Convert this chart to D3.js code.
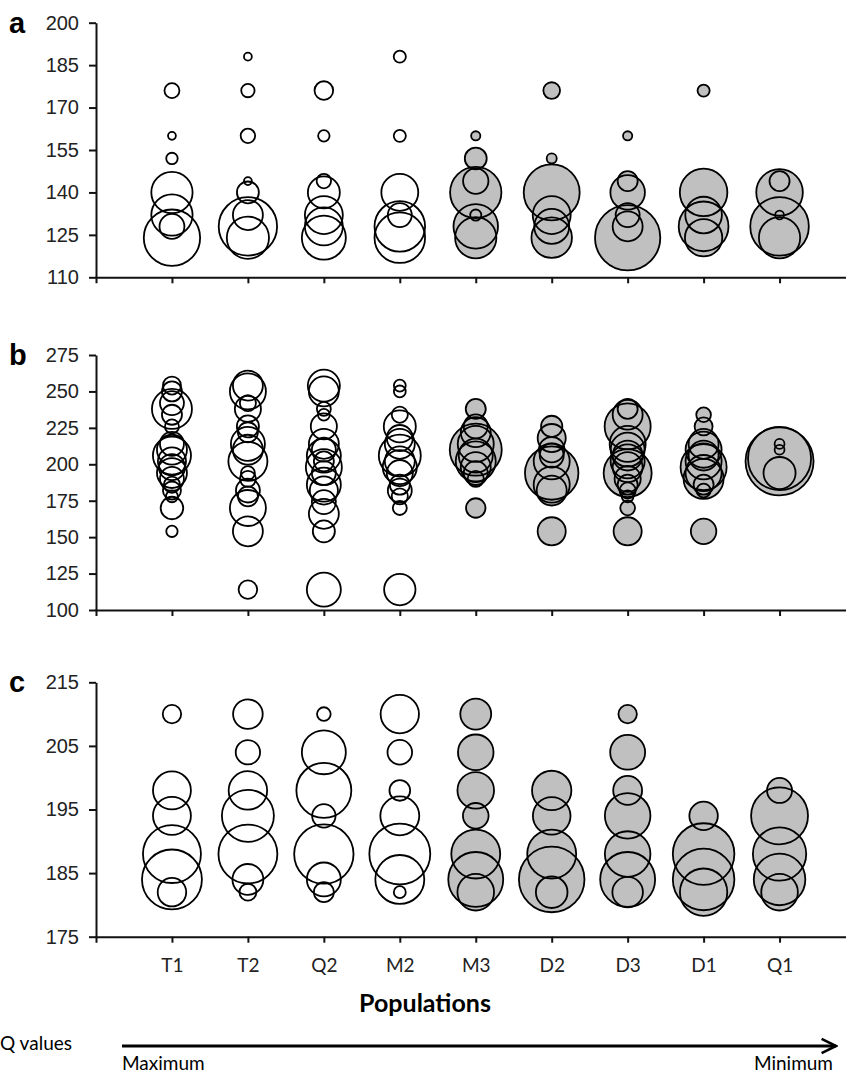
<!DOCTYPE html>
<html>
<head>
<meta charset="utf-8">
<script src="https://cdn.jsdelivr.net/npm/d3@7"></script>
<style>
  body { margin: 0; background: #fff; }
  svg { display: block; }
</style>
</head>
<body>
<div id="chart"></div>
<script>
// populations ordered from maximum to minimum Q value
var populations = ["T1", "T2", "Q2", "M2", "M3", "D2", "D3", "D1", "Q1"];
var greyPops = ["M3", "D2", "D3", "D1", "Q1"];

var ticksA = [110, 125, 140, 155, 170, 185, 200];
var ticksB = [100, 125, 150, 175, 200, 225, 250, 275];
var ticksC = [175, 185, 195, 205, 215];

// [population, allele size, frequency %]
var allelesA = [
  ["T1",124,41],["T1",128,8],["T1",132,22],["T1",140,22],["T1",152,1.7],["T1",160,0.8],["T1",176,2.9],
  ["T2",124,23],["T2",128,44],["T2",132,11.6],["T2",140,6.2],["T2",144,0.8],["T2",160,2.7],["T2",176,2.3],["T2",188,0.8],
  ["Q2",124,25],["Q2",128,18.6],["Q2",132,18.6],["Q2",140,13.2],["Q2",144,2.7],["Q2",160,1.7],["Q2",176,4.5],
  ["M2",124,33],["M2",128,33],["M2",132,7.4],["M2",140,17.6],["M2",160,1.9],["M2",188,1.9],
  ["M3",124,22],["M3",128,25.6],["M3",132,1.6],["M3",140,34],["M3",144,8.3],["M3",152,6.2],["M3",160,1.1],
  ["D2",124,21.2],["D2",128,15.8],["D2",132,18.6],["D2",140,40.4],["D2",152,1.3],["D2",176,3.6],
  ["D3",124,55],["D3",128,11.6],["D3",132,7.4],["D3",140,15.4],["D3",144,5.2],["D3",160,1.1],
  ["D1",124,18],["D1",128,32],["D1",132,17.3],["D1",140,29.2],["D1",176,1.9],
  ["Q1",124,22],["Q1",128,44.3],["Q1",132,1],["Q1",140,28],["Q1",144,5.2]
];

var allelesB = [
  ["T1",154,1.2],["T1",170,4.7],["T1",178,1.3],["T1",182,3],["T1",186,2.4],["T1",190,5.3],["T1",194,8.3],["T1",198,6.3],["T1",202,7.3],
  ["T1",206,13.4],["T1",210,8.3],["T1",214,5.3],["T1",226,1.8],["T1",234,3.7],["T1",238,14.8],["T1",242,5.3],["T1",250,3.7],["T1",254,3],
  ["T2",114,3.2],["T2",154,8.3],["T2",170,12],["T2",178,3.7],["T2",182,5.3],["T2",190,2.4],["T2",194,1.8],["T2",202,14.1],
  ["T2",210,8.3],["T2",214,10.7],["T2",222,3.7],["T2",226,4.5],["T2",238,6.3],["T2",242,2.4],["T2",250,12],["T2",254,8.3],
  ["Q2",114,10.7],["Q2",154,4.5],["Q2",166,8.3],["Q2",174,5.3],["Q2",182,7.3],["Q2",186,10.7],["Q2",194,5.3],["Q2",198,12],["Q2",202,3.7],
  ["Q2",206,10.7],["Q2",210,5.3],["Q2",214,8.3],["Q2",226,6.3],["Q2",234,1.3],["Q2",238,1.8],["Q2",250,8.3],["Q2",254,9.5],
  ["M2",114,9.1],["M2",170,1.8],["M2",178,2.4],["M2",182,5.3],["M2",186,3.7],["M2",194,6.3],["M2",198,10.7],["M2",202,8.3],
  ["M2",206,16.3],["M2",214,8.3],["M2",218,6.3],["M2",226,9.5],["M2",234,2.4],["M2",250,1.3],["M2",254,1.3],
  ["M3",170,3.5],["M3",190,2.4],["M3",194,5.3],["M3",198,8.3],["M3",202,14.8],["M3",206,10.7],["M3",210,25],["M3",214,12],
  ["M3",222,8.3],["M3",226,5.3],["M3",238,3.7],
  ["D2",154,7.3],["D2",182,8.3],["D2",186,12],["D2",194,26.4],["D2",202,12],["D2",206,5.3],["D2",210,6],["D2",218,7.3],["D2",226,4.2],
  ["D3",154,7.3],["D3",170,2],["D3",178,1.3],["D3",182,2.4],["D3",186,3.7],["D3",190,6.3],["D3",194,21.3],["D3",198,8.3],
  ["D3",202,10.7],["D3",206,8.3],["D3",210,10.7],["D3",214,12],["D3",226,19.6],["D3",234,8.3],["D3",238,3.7],
  ["D1",154,6],["D1",182,1.8],["D1",186,3.7],["D1",190,14.8],["D1",194,12],["D1",198,19.6],["D1",202,12],["D1",206,8.3],
  ["D1",210,12],["D1",214,8.3],["D1",226,3],["D1",234,2],
  ["Q1",194,9.5],["Q1",202,42.8],["Q1",204,36.8],["Q1",210,0.9],["Q1",214,0.9]
];

var allelesC = [
  ["T1",182,7.4],["T1",184,32.7],["T1",188,30.6],["T1",194,13.1],["T1",198,13.1],["T1",210,3.1],
  ["T2",182,2.6],["T2",184,8.7],["T2",188,31.6],["T2",194,24.6],["T2",198,13.5],["T2",204,5.4],["T2",210,8],
  ["Q2",182,3.6],["Q2",184,10.5],["Q2",188,32.1],["Q2",194,5],["Q2",198,27.5],["Q2",204,17.6],["Q2",210,1.7],
  ["M2",182,1.3],["M2",184,21.8],["M2",188,33.8],["M2",194,13.8],["M2",198,3.9],["M2",204,5.5],["M2",210,13.4],
  ["M3",182,12.2],["M3",184,27.5],["M3",188,21.8],["M3",194,6],["M3",198,12.2],["M3",204,11.5],["M3",210,8.7],
  ["D2",182,9.1],["D2",184,39.1],["D2",188,21.8],["D2",194,12.9],["D2",198,14.1],
  ["D3",182,8.5],["D3",184,27.5],["D3",188,18.9],["D3",194,18.9],["D3",198,7.6],["D3",204,11.1],["D3",210,3.1],
  ["D1",182,20.4],["D1",184,34.5],["D1",188,34.5],["D1",194,7.4],
  ["Q1",182,12.2],["Q1",184,24.2],["Q1",188,25.9],["Q1",194,29.5],["Q1",198,5.7]
];

var width = 846, height = 1073;
var svg = d3.select("#chart").append("svg").attr("width", width).attr("height", height);

var x = d3.scalePoint().domain(populations).range([96, 855.5]).padding(1);

/*
 One bubble panel
 */
function BubblePanel(opts) {
    var self = this;
    self.opts = opts;
    self.g = svg.append("g");
    self.y = d3.scaleLinear().domain([opts.ticks[0], opts.ticks[opts.ticks.length - 1]]).range([opts.bottom, opts.top]);
    self.r = d3.scaleSqrt().domain([0, 100]).range([0, opts.k * 10]);
    self.draw();
}

BubblePanel.prototype.draw = function() {
    var self = this, o = self.opts;

    // fills first so every outline stays visible
    self.g.append("g").selectAll("circle")
        .data(o.data.filter(function(d){ return greyPops.indexOf(d[0]) >= 0; }))
        .enter().append("circle")
        .attr("cx", function(d){ return x(d[0]); })
        .attr("cy", function(d){ return self.y(d[1]); })
        .attr("r", function(d){ return self.r(d[2]); })
        .attr("fill", "#c0c0c0");

    self.g.append("g").selectAll("circle")
        .data(o.data)
        .enter().append("circle")
        .attr("cx", function(d){ return x(d[0]); })
        .attr("cy", function(d){ return self.y(d[1]); })
        .attr("r", function(d){ return self.r(d[2]); })
        .attr("fill", "none")
        .attr("stroke", "#000")
        .attr("stroke-width", 1.8);

    var yAxis = self.g.append("g")
        .attr("transform", "translate(96,0)")
        .call(d3.axisLeft(self.y).tickValues(o.ticks).tickSize(7).tickSizeOuter(0).tickPadding(10));
    yAxis.selectAll("text").attr("font-family", "'Liberation Sans', Arial, sans-serif").attr("font-size", 20).attr("fill", "#222");

    var xAxis = self.g.append("g")
        .attr("transform", "translate(0," + o.bottom + ")")
        .call(d3.axisBottom(x).tickSize(6).tickSizeOuter(6).tickPadding(16));
    xAxis.selectAll("text")
        .attr("font-family", "Lato, 'Open Sans', sans-serif").attr("font-size", 19).attr("fill", "#222")
        .style("display", o.showLabels ? null : "none");

    self.g.selectAll(".domain, .tick line").attr("stroke", "#111").attr("stroke-width", 2);

    self.g.append("text")
        .attr("x", 9).attr("y", o.top + 10)
        .attr("font-family", "'Liberation Sans', Arial, sans-serif")
        .attr("font-weight", "bold").attr("font-size", 29)
        .text(o.label);
};

new BubblePanel({label: "a", data: allelesA, ticks: ticksA, top: 22.7, bottom: 277.3, k: 4.4});
new BubblePanel({label: "b", data: allelesB, ticks: ticksB, top: 355, bottom: 610, k: 5.2});
new BubblePanel({label: "c", data: allelesC, ticks: ticksC, top: 682.3, bottom: 936.7, k: 5.24, showLabels: true});

// axis title and Q value arrow
svg.append("text")
    .attr("x", 425).attr("y", 1012)
    .attr("text-anchor", "middle")
    .attr("font-family", "Lato, sans-serif").attr("font-weight", "bold").attr("font-size", 25)
    .text("Populations");

svg.append("defs").append("marker")
    .attr("id", "chev").attr("viewBox", "0 0 10 10").attr("refX", 9).attr("refY", 5)
    .attr("markerWidth", 6).attr("markerHeight", 6).attr("orient", "auto")
    .append("path").attr("d", "M1,1 L9,5 L1,9").attr("fill", "none").attr("stroke", "#000").attr("stroke-width", 1.4);

svg.append("line")
    .attr("x1", 122).attr("x2", 836).attr("y1", 1046).attr("y2", 1046)
    .attr("stroke", "#000").attr("stroke-width", 3)
    .attr("marker-end", "url(#chev)");

svg.append("text").attr("x", 0).attr("y", 1050)
    .attr("font-family", "Lato, sans-serif").attr("font-size", 19).text("Q values");
svg.append("text").attr("x", 122).attr("y", 1070)
    .attr("font-family", "Lato, sans-serif").attr("font-size", 19).text("Maximum");
svg.append("text").attr("x", 833).attr("y", 1070).attr("text-anchor", "end")
    .attr("font-family", "Lato, sans-serif").attr("font-size", 19).text("Minimum");
</script>
</body>
</html>
